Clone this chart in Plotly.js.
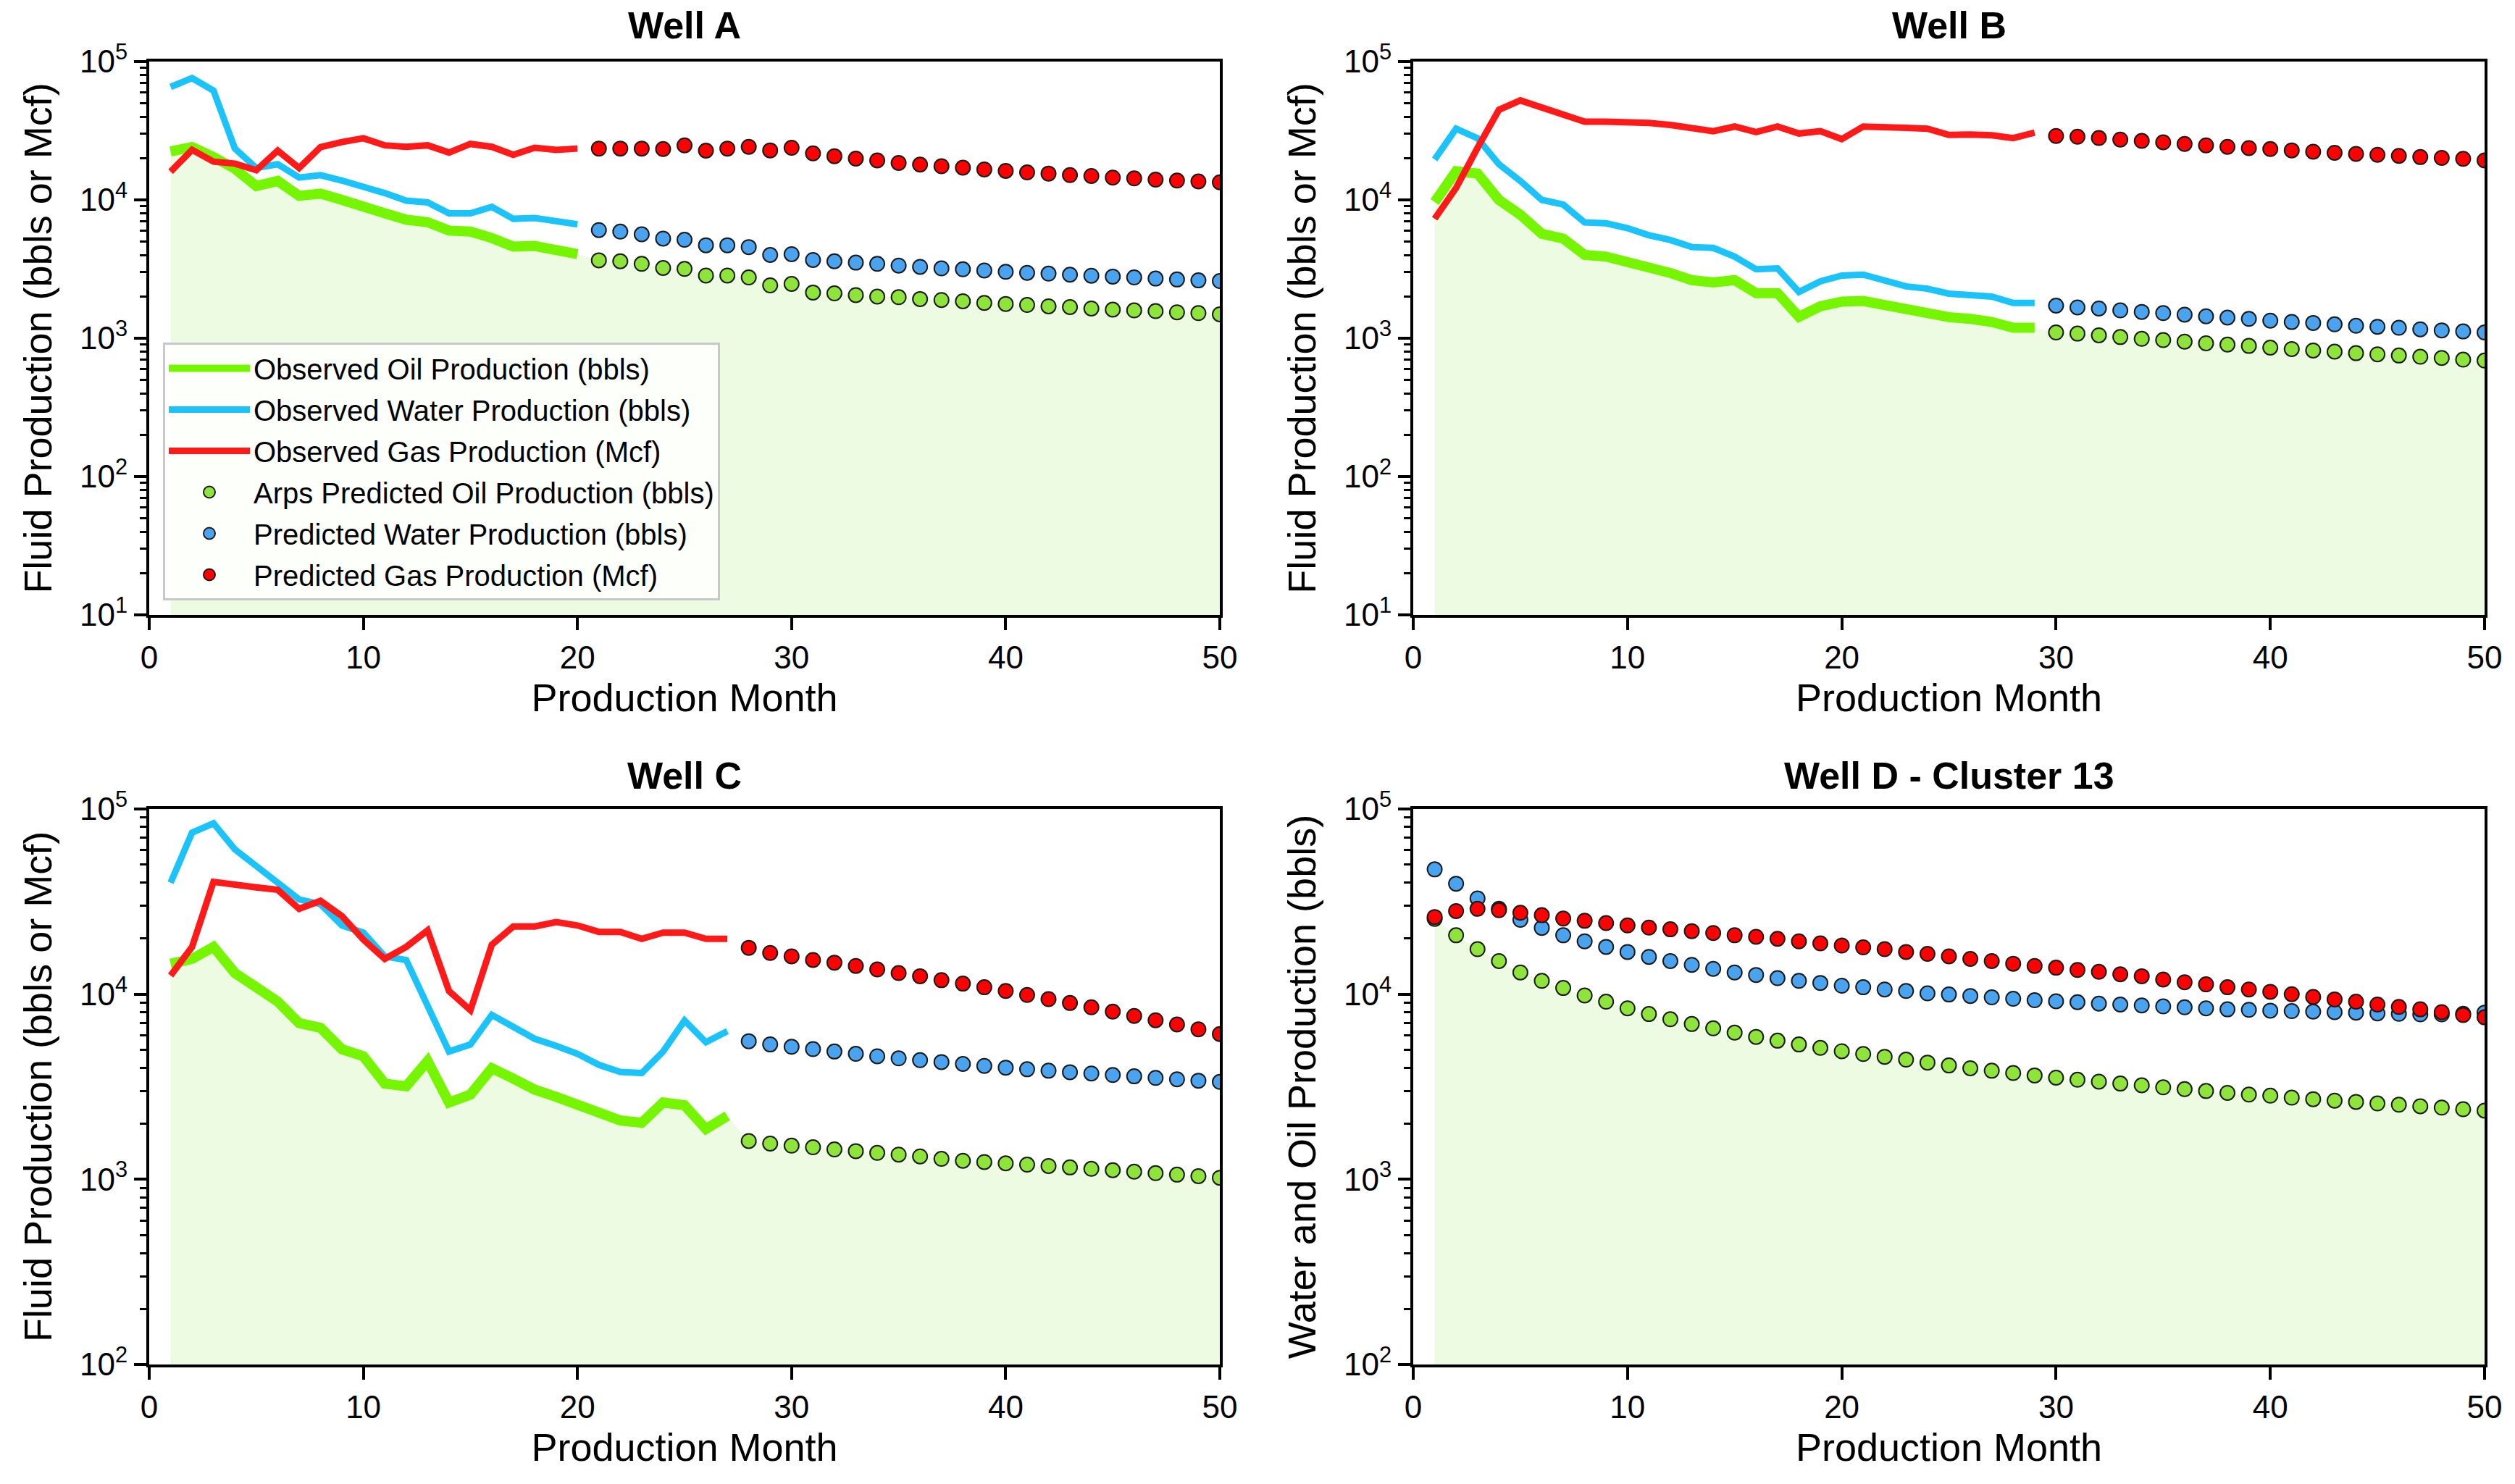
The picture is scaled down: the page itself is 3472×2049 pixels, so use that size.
<!DOCTYPE html>
<html>
<head>
<meta charset="utf-8">
<script src="https://cdn.plot.ly/plotly-3.0.1.min.js"></script>
<style>html,body{margin:0;padding:0;background:#fff;}#chart{width:3472px;height:2049px;}</style>
</head>
<body>
<div id="chart"></div>
<script>
// ---------- data ----------
const MONTHS = [1,2,3,4,5,6,7,8,9,10,11,12,13,14,15,16,17,18,19,20,21,22,23,24,25,26,27,28,29,30,31,32,33,34,35,36,37,38,39,40,41,42,43,44,45,46,47,48,49,50];
const X_TICKS = [0,10,20,30,40,50];
const Y_TICKVALS = [10,100,1000,10000,100000];
const Y_TICKTEXT = ['10<sup>1</sup>','10<sup>2</sup>','10<sup>3</sup>','10<sup>4</sup>','10<sup>5</sup>'];
const TITLES = ['Well A','Well B','Well C','Well D - Cluster 13'];
const Y_TITLES = ['Fluid Production (bbls or Mcf)','Fluid Production (bbls or Mcf)','Fluid Production (bbls or Mcf)','Water and Oil Production (bbls)'];
const LEGEND_NAMES = ['Observed Oil Production (bbls)','Observed Water Production (bbls)','Observed Gas Production (Mcf)','Arps Predicted Oil Production (bbls)','Predicted Water Production (bbls)','Predicted Gas Production (Mcf)'];

// Well A (observed months 1-20, predicted 21-50)
const oilA_obs   = [22400,24100,20400,16800,12600,13700,10700,11100,10000,9100,8000,7200,6900,6000,5900,5300,4600,4650,4400,4050];
const waterA_obs = [65600,75900,61700,23500,17000,18100,14500,15100,13800,12600,11200,9870,9600,8000,8000,8900,7300,7400,7030,6660];
const gasA_obs   = [16000,23000,18900,18300,16400,22700,17000,24100,26200,27900,24800,24200,24800,22000,25400,24200,21200,23800,23000,23500];
const oilA_pred   = [3660,3600,3450,3220,3170,2840,2840,2750,2410,2470,2140,2110,2050,2000,1980,1920,1890,1850,1800,1770,1740,1700,1680,1640,1610,1590,1570,1540,1520,1490];
const waterA_pred = [6050,5900,5640,5250,5150,4700,4700,4560,4000,4050,3680,3600,3520,3450,3350,3280,3200,3150,3090,3020,2970,2930,2880,2830,2790,2750,2700,2660,2620,2590];
const gasA_pred   = [23500,23500,23500,23300,24800,22700,23500,24200,22800,23800,21700,20700,19900,19300,18500,18000,17500,17100,16600,16200,15800,15500,15100,14900,14500,14300,14000,13800,13600,13400];

// Well B (observed months 1-29, predicted 30-50)
const oilB_obs   = [9650,16100,15500,10000,7800,5690,5250,4000,3890,3600,3200,2960,2630,2530,2630,2120,2120,1430,1700,1840,1860,1740,1570,1520,1420,1380,1310,1190,1190];
const waterB_obs = [19600,32700,27900,18100,13700,10000,9250,6870,6780,6250,5550,5130,4560,4500,3890,3150,3200,2160,2580,2840,2880,2630,2370,2280,2100,2050,2000,1800,1800];
const gasB_obs   = [7310,12200,23800,44800,52400,46600,41400,36800,36800,36800,36000,34800,33200,31400,33900,30900,33900,30200,31400,27500,33900,33900,33200,32700,29500,29700,29300,28000,30600];
const oilB_pred   = [1100,1080,1050,1020,990,970,945,920,900,880,855,835,815,800,780,765,750,735,720,700,690];
const waterB_pred = [1720,1670,1640,1590,1550,1520,1480,1440,1410,1380,1340,1310,1290,1260,1230,1210,1190,1160,1140,1120,1100];
const gasB_pred   = [29000,28600,28000,27300,26700,26100,25400,24800,24200,23700,23300,22800,22300,21900,21500,21200,20800,20400,20100,19800,19300];

// Well C (observed months 1-27, predicted 28-50)
const oilC_obs   = [14600,15500,18000,13000,10900,9120,6980,6580,5040,4620,3290,3180,4350,2600,2870,3980,3500,3050,2790,2550,2270,2080,2020,2600,2510,1870,2200];
const waterC_obs = [40000,74500,83700,60500,49200,40000,32500,30600,23500,21500,16000,15300,8590,4900,5350,7730,6660,5740,5260,4760,4150,3800,3750,4900,7200,5500,6310];
const gasC_obs   = [12600,18000,40400,38800,37700,36600,28900,31900,26400,19700,15500,18000,22100,10400,8190,18500,23200,23200,24500,23500,21700,21700,19900,21500,21500,19900,19900];
const oilC_pred   = [1610,1560,1520,1490,1450,1420,1390,1360,1330,1290,1260,1240,1220,1200,1180,1160,1140,1120,1100,1080,1060,1040,1020];
const waterC_pred = [5570,5350,5200,5050,4900,4760,4620,4500,4400,4300,4200,4100,4010,3930,3860,3790,3730,3660,3600,3530,3470,3410,3360];
const gasC_pred   = [17800,16700,16000,15300,14800,14200,13600,13000,12500,11900,11400,10900,10400,9900,9400,8960,8490,8050,7630,7230,6860,6460,6090];

// Well D - Cluster 13 (predicted months 1-50)
const oilD_pred   = [25500,20800,17500,15100,13100,11800,10800,9840,9110,8390,7810,7320,6900,6540,6200,5880,5610,5350,5130,4920,4750,4590,4430,4270,4120,3980,3860,3750,3640,3540,3450,3370,3290,3220,3140,3070,3000,2930,2870,2830,2760,2710,2660,2620,2570,2530,2480,2440,2390,2350];
const waterD_pred = [47200,39500,32900,28900,25200,22800,20800,19300,18000,16900,15900,15100,14400,13700,13100,12700,12200,11800,11500,11100,10900,10600,10400,10100,9960,9780,9610,9440,9270,9160,9050,8890,8790,8690,8590,8490,8390,8280,8230,8150,8100,8050,8000,7950,7870,7830,7780,7780,7830,7950];
const gasD_pred   = [26100,28100,28900,28400,27500,26700,25600,24900,24200,23500,22900,22400,21900,21400,20800,20400,19900,19300,18800,18300,17900,17500,16900,16500,16000,15500,15100,14600,14200,13900,13500,13200,12800,12500,12000,11600,11300,10900,10600,10300,10000,9660,9370,9110,8790,8530,8280,8000,7720,7500];

// ---------- styles ----------
const C_OIL = '#76f500', C_WATER = '#1cc3fb', C_GAS = '#ff1a1a';
const M_OIL = '#8ee43a', M_WATER = '#4aa3ee', M_GAS = '#ff0000';
const FILL = '#eefbe3';
const FONT = 'Arial, "Liberation Sans", Helvetica, sans-serif';

const wells = [
  {obsN: 20, oil: oilA_obs, water: waterA_obs, gas: gasA_obs, po: oilA_pred, pw: waterA_pred, pg: gasA_pred, yr: [1,5]},
  {obsN: 29, oil: oilB_obs, water: waterB_obs, gas: gasB_obs, po: oilB_pred, pw: waterB_pred, pg: gasB_pred, yr: [1,5]},
  {obsN: 27, oil: oilC_obs, water: waterC_obs, gas: gasC_obs, po: oilC_pred, pw: waterC_pred, pg: gasC_pred, yr: [2,5]},
  {obsN: 0,  oil: [], water: [], gas: [], po: oilD_pred, pw: waterD_pred, pg: gasD_pred, yr: [2,5]}
];

const traces = [];
wells.forEach((w, i) => {
  const sfx = i === 0 ? '' : String(i + 1);
  const xa = 'x' + sfx, ya = 'y' + sfx;
  const obsX = MONTHS.slice(0, w.obsN);
  const predX = MONTHS.slice(w.obsN);
  const lg = i === 0;
  const ymin = Math.pow(10, w.yr[0]);
  // baseline for fill
  traces.push({x: [MONTHS[0], MONTHS[MONTHS.length - 1]], y: [ymin, ymin], xaxis: xa, yaxis: ya,
    mode: 'lines', line: {width: 0, color: FILL}, showlegend: false, hoverinfo: 'skip'});
  // fill under oil
  traces.push({x: MONTHS, y: w.oil.concat(w.po), xaxis: xa, yaxis: ya, mode: 'lines',
    line: {width: 0, color: FILL}, fill: 'tonexty', fillcolor: FILL, showlegend: false, hoverinfo: 'skip'});
  // observed lines
  if (w.obsN > 0) {
    traces.push({x: obsX, y: w.oil, xaxis: xa, yaxis: ya, mode: 'lines', name: LEGEND_NAMES[0],
      line: {color: C_OIL, width: 14}, showlegend: lg, legendgroup: 'g1'});
    traces.push({x: obsX, y: w.water, xaxis: xa, yaxis: ya, mode: 'lines', name: LEGEND_NAMES[1],
      line: {color: C_WATER, width: 9}, showlegend: lg, legendgroup: 'g2'});
    traces.push({x: obsX, y: w.gas, xaxis: xa, yaxis: ya, mode: 'lines', name: LEGEND_NAMES[2],
      line: {color: C_GAS, width: 9}, showlegend: lg, legendgroup: 'g3'});
  }
  const mk = c => ({color: c, size: 20, line: {color: '#1a1a1a', width: 2}});
  traces.push({x: predX, y: w.po, xaxis: xa, yaxis: ya, mode: 'markers', name: LEGEND_NAMES[3],
    marker: mk(M_OIL), showlegend: lg, legendgroup: 'g4'});
  traces.push({x: predX, y: w.pw, xaxis: xa, yaxis: ya, mode: 'markers', name: LEGEND_NAMES[4],
    marker: mk(M_WATER), showlegend: lg, legendgroup: 'g5'});
  traces.push({x: predX, y: w.pg, xaxis: xa, yaxis: ya, mode: 'markers', name: LEGEND_NAMES[5],
    marker: mk(M_GAS), showlegend: lg, legendgroup: 'g6'});
});

const W = 3472, H = 2049;
const xDomains = [[206/W, 1684/W], [1951/W, 3430/W]];
const yDomains = [[1 - 849/H, 1 - 85/H], [1 - 1884/H, 1 - 1117/H]];

const layout = {
  width: W, height: H,
  margin: {l: 0, r: 0, t: 0, b: 0},
  paper_bgcolor: '#ffffff', plot_bgcolor: '#ffffff',
  font: {family: FONT, color: '#000', size: 44},
  showlegend: true,
  legend: {x: 225/W, y: 1 - 473/H, xanchor: 'left', yanchor: 'top',
    bgcolor: 'rgba(255,255,255,0.85)', bordercolor: '#c8c8c8', borderwidth: 3,
    font: {family: FONT, size: 40, color: '#000'}, tracegroupgap: 2, itemwidth: 112},
  annotations: []
};

wells.forEach((w, i) => {
  const sfx = i === 0 ? '' : String(i + 1);
  const col = i % 2, row = Math.floor(i / 2);
  layout['xaxis' + sfx] = {
    domain: xDomains[col], anchor: 'y' + sfx, range: [0, 50],
    tickmode: 'array', tickvals: X_TICKS,
    ticks: 'outside', ticklen: 17, tickwidth: 4, tickcolor: '#000',
    showline: true, linewidth: 4, linecolor: '#000', mirror: true,
    showgrid: false, zeroline: false,
    tickfont: {family: FONT, size: 44, color: '#000'},
    title: {text: 'Production Month', font: {family: FONT, size: 54, color: '#000'}, standoff: 14}
  };
  layout['yaxis' + sfx] = {
    domain: yDomains[row], anchor: 'x' + sfx, type: 'log', range: w.yr,
    tickmode: 'array', tickvals: Y_TICKVALS, ticktext: Y_TICKTEXT,
    ticks: 'outside', ticklen: 17, tickwidth: 4, tickcolor: '#000',
    minor: {ticks: 'outside', ticklen: 9, tickwidth: 3, tickcolor: '#000', dtick: 'D1', showgrid: false},
    showline: true, linewidth: 4, linecolor: '#000', mirror: true,
    showgrid: false, zeroline: false,
    tickfont: {family: FONT, size: 44, color: '#000'},
    title: {text: Y_TITLES[i], font: {family: FONT, size: 54, color: '#000'}, standoff: 22}
  };
  layout.annotations.push({
    text: '<b>' + TITLES[i] + '</b>', xref: 'paper', yref: 'paper',
    x: (xDomains[col][0] + xDomains[col][1]) / 2,
    y: row === 0 ? 1 - 35/H : 1 - 1071/H,
    xanchor: 'center', yanchor: 'middle', showarrow: false,
    font: {family: FONT, size: 52, color: '#000'}
  });
});

Plotly.newPlot('chart', traces, layout, {staticPlot: true, displayModeBar: false});
</script>
</body>
</html>
